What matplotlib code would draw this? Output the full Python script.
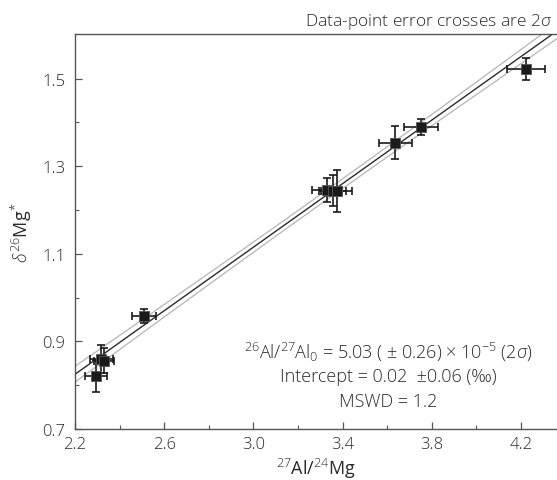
import numpy as np
import matplotlib
matplotlib.use("Agg")
import matplotlib.pyplot as plt

plt.rcParams['font.family'] = ['Open Sans', 'DejaVu Sans']
plt.rcParams['font.weight'] = 'light'
plt.rcParams['mathtext.fontset'] = 'custom'
plt.rcParams['mathtext.rm'] = 'Open Sans:light'
plt.rcParams['mathtext.it'] = 'Open Sans:italic'

# data
al_mg = [2.294, 2.318, 2.328, 2.509, 3.330, 3.355, 3.373, 3.635, 3.752, 4.222]
al_mg_err = [0.048, 0.052, 0.045, 0.052, 0.068, 0.060, 0.068, 0.074, 0.076, 0.084]
d26mg = [0.821, 0.860, 0.856, 0.959, 1.246, 1.244, 1.244, 1.354, 1.390, 1.522]
d26mg_err = [0.036, 0.032, 0.028, 0.016, 0.028, 0.035, 0.048, 0.037, 0.018, 0.026]

slope = 0.3627
intercept = 0.027
env_mid = 0.011
env_grow = 0.0130
x_center = 3.3

xlim = (2.2, 4.361)
ylim = (0.7, 1.601)
xticks = [2.2, 2.6, 3.0, 3.4, 3.8, 4.2]
yticks = [0.7, 0.9, 1.1, 1.3, 1.5]

fig = plt.figure(figsize=(5.57, 4.81), dpi=100)
ax = fig.add_axes([75/557, 1-430/481, 1-75/557, (430-35.3)/481])

xx = np.linspace(xlim[0], xlim[1], 200)
yy = intercept + slope*xx
half = np.sqrt(env_mid**2 + (env_grow*(xx - x_center))**2)
ax.plot(xx, yy, c="#2b2b2b", lw=1.0, zorder=2)
ax.plot(xx, yy + half, c="#b5b5b5", lw=0.9, zorder=1)
ax.plot(xx, yy - half, c="#b5b5b5", lw=0.9, zorder=1)

ax.errorbar(al_mg, d26mg, xerr=al_mg_err, yerr=d26mg_err, fmt="none",
            ecolor="#1a1a1a", elinewidth=1.2, capsize=3, capthick=1.2, zorder=3)
ax.plot(al_mg, d26mg, ls="none", marker="s", ms=7, mfc="#1a1a1a",
        mec="#555555", mew=0.6, zorder=4)

ax.set_xlim(*xlim)
ax.set_ylim(*ylim)
ax.set_xticks(xticks)
ax.set_xticklabels([f"{v:.1f}" for v in xticks])
ax.set_yticks(yticks)
ax.set_yticklabels([f"{v:.1f}" for v in yticks])
ax.set_xticks(np.arange(2.4, 4.3, 0.4), minor=True)
ax.set_yticks(np.arange(0.8, 1.6, 0.2), minor=True)
ax.tick_params(which="major", direction="in", length=5, width=0.9,
               color="#555555", labelsize=12, labelcolor="#2a2a2a", pad=7)
ax.tick_params(which="minor", direction="in", length=3, width=0.8, color="#555555")
ax.tick_params(axis="x", pad=5)
ax.spines["right"].set_visible(False)
for s in ["left", "top", "bottom"]:
    ax.spines[s].set_color("#555555")
    ax.spines[s].set_linewidth(1.0)

ax.set_xlabel(r"$^{27}$Al/$^{24}$Mg", fontsize=13, color="#2a2a2a", labelpad=3)
ax.set_ylabel(r"$\delta^{26}$Mg$^{*}$", fontsize=13, color="#2a2a2a", labelpad=6)

fig.text(552/557, 1-22/481, r"Data-point error crosses are 2$\sigma$",
         ha="right", va="center", fontsize=12.5, color="#2a2a2a")

tx = 3.604
ax.text(tx, 0.8777, r"$^{26}$Al/$^{27}$Al$_{0}$ = 5.03 ( $\pm$ 0.26) $\times$ 10$^{-5}$ (2$\sigma$)",
        ha="center", va="center", fontsize=13, color="#2a2a2a")
ax.text(tx, 0.821, "Intercept = 0.02  \u00b10.06 (\u2030)",
        ha="center", va="center", fontsize=13, color="#2a2a2a")
ax.text(tx, 0.7628, "MSWD = 1.2",
        ha="center", va="center", fontsize=13, color="#2a2a2a")

fig.savefig("out.png", dpi=100)
plt.close()
